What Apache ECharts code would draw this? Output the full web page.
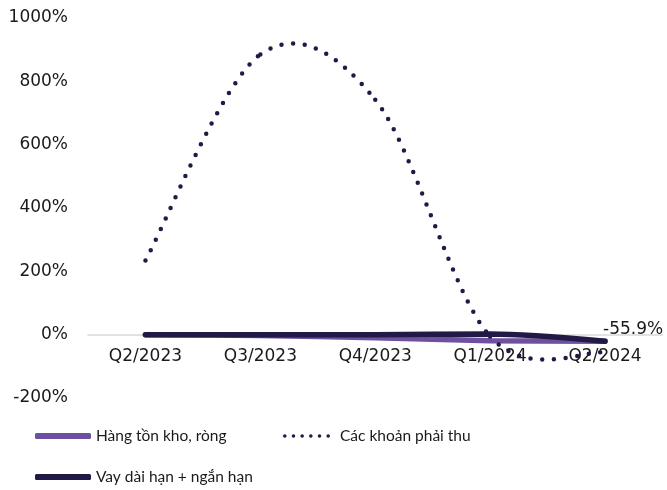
<!DOCTYPE html>
<html><head><meta charset="utf-8">
<script src="https://cdn.jsdelivr.net/npm/echarts@6/dist/echarts.min.js"></script>
<style>html,body{margin:0;padding:0;background:#fff}#c{width:667px;height:490px}</style>
</head><body><div id="c"></div>
<script>
const categories = ['Q2/2023','Q3/2023','Q4/2023','Q1/2024','Q2/2024'];
const hangTonKho = [0, -3, -10, -19, -21];
const cacKhoanPhaiThu = [234, 885, 742, -6, -55.9];
const vayDaiNganHan = [0, 0, 0, 2, -21];
const yTicks = [-200, 0, 200, 400, 600, 800, 1000];

const PURPLE = '#6d51a0';
const DARK = '#231947';
const axisFont = '"DejaVu Sans", sans-serif';
const legendFont = 'Lato, "Noto Sans", sans-serif';

// dotted legend icon: six small dots
function dotsIcon(n, w, h) {
  const r = h / 2, step = (w - h) / (n - 1);
  let p = '';
  for (let k = 0; k < n; k++) {
    const cx = r + k * step;
    p += `M${cx - r},${r}a${r},${r} 0 1,0 ${2*r},0a${r},${r} 0 1,0 ${-2*r},0Z`;
  }
  return 'path://' + p;
}

// Excel-like (Catmull-Rom) smoothed dotted line drawn via the chart's own coordinate system
function renderSmooth(params, api) {
  const i = params.dataIndex;
  const n = cacKhoanPhaiThu.length;
  const pt = k => api.coord([Math.max(0, Math.min(n - 1, k)), cacKhoanPhaiThu[Math.max(0, Math.min(n - 1, k))]]);
  if (i === n - 1) {
    const p = pt(i);
    return {
      type: 'text', x: p[0] - 2, y: p[1] - 23,
      style: {text: cacKhoanPhaiThu[i].toFixed(1) + '%', fill: '#1a1a1a', font: '17px ' + axisFont, verticalAlign: 'middle', align: 'left'}
    };
  }
  const p0 = pt(i - 1), p1 = pt(i), p2 = pt(i + 1), p3 = pt(i + 2);
  return {
    type: 'bezierCurve',
    shape: {
      x1: p1[0], y1: p1[1], x2: p2[0], y2: p2[1],
      cpx1: p1[0] + (p2[0] - p0[0]) / 6, cpy1: p1[1] + (p2[1] - p0[1]) / 6,
      cpx2: p2[0] - (p3[0] - p1[0]) / 6, cpy2: p2[1] - (p3[1] - p1[1]) / 6
    },
    style: {stroke: DARK, lineWidth: 4.5, lineDash: [0, 11.7], lineCap: 'round', fill: null}
  };
}

const chart = echarts.init(document.getElementById('c'));
const gridTop = 18, gridBottom = 92, H = 490;
const plotH = H - gridTop - gridBottom;
const zeroOffset = -plotH * (0 - yTicks[0]) / (yTicks[yTicks.length-1] - yTicks[0]);

chart.setOption({
  animation: false,
  grid: {left: 88, right: 4.5, top: gridTop, bottom: gridBottom},
  xAxis: {
    type: 'category', data: categories, boundaryGap: true,
    offset: zeroOffset,
    axisLine: {onZero: false, lineStyle: {color: '#d9d9d9', width: 1.5}},
    axisTick: {show: false},
    axisLabel: {color: '#1a1a1a', fontSize: 17, fontFamily: axisFont, margin: 13}
  },
  yAxis: {
    type: 'value', min: yTicks[0], max: yTicks[yTicks.length-1], interval: 200,
    splitLine: {show: false},
    axisLine: {show: false}, axisTick: {show: false},
    axisLabel: {color: '#1a1a1a', fontSize: 17, fontFamily: axisFont, margin: 20, formatter: v => v + '%'}
  },
  legend: [{
    left: 35, top: 428, padding: 0, itemWidth: 56, itemHeight: 6, itemGap: 0,
    data: [{name: 'Hàng tồn kho, ròng', icon: 'roundRect'}],
    textStyle: {color: '#1a1a1a', fontSize: 15.5, fontFamily: legendFont}
  }, {
    left: 283, top: 428, padding: 0, itemWidth: 47, itemHeight: 3.6,
    data: [{name: 'Các khoản phải thu', icon: dotsIcon(6, 47, 3.6)}],
    textStyle: {color: '#1a1a1a', fontSize: 15.5, fontFamily: legendFont, padding: [0, 0, 0, 5]}
  }, {
    left: 35, top: 469, padding: 0, itemWidth: 56, itemHeight: 6,
    data: [{name: 'Vay dài hạn + ngắn hạn', icon: 'roundRect'}],
    textStyle: {color: '#1a1a1a', fontSize: 15.5, fontFamily: legendFont}
  }],
  series: [{
    name: 'Hàng tồn kho, ròng', type: 'line', data: hangTonKho, smooth: 0.3,
    symbol: 'none', color: PURPLE, z: 2,
    lineStyle: {width: 5.5, cap: 'round', color: PURPLE}
  }, {
    name: 'Các khoản phải thu', type: 'custom', z: 4,
    data: cacKhoanPhaiThu.map((v, i) => [i, v]),
    encode: {x: 0, y: 1},
    itemStyle: {color: DARK},
    renderItem: renderSmooth
  }, {
    name: 'Vay dài hạn + ngắn hạn', type: 'line', data: vayDaiNganHan, smooth: 0.3,
    symbol: 'none', color: DARK, z: 3,
    lineStyle: {width: 5.5, cap: 'round', color: DARK}
  }]
});
</script></body></html>
